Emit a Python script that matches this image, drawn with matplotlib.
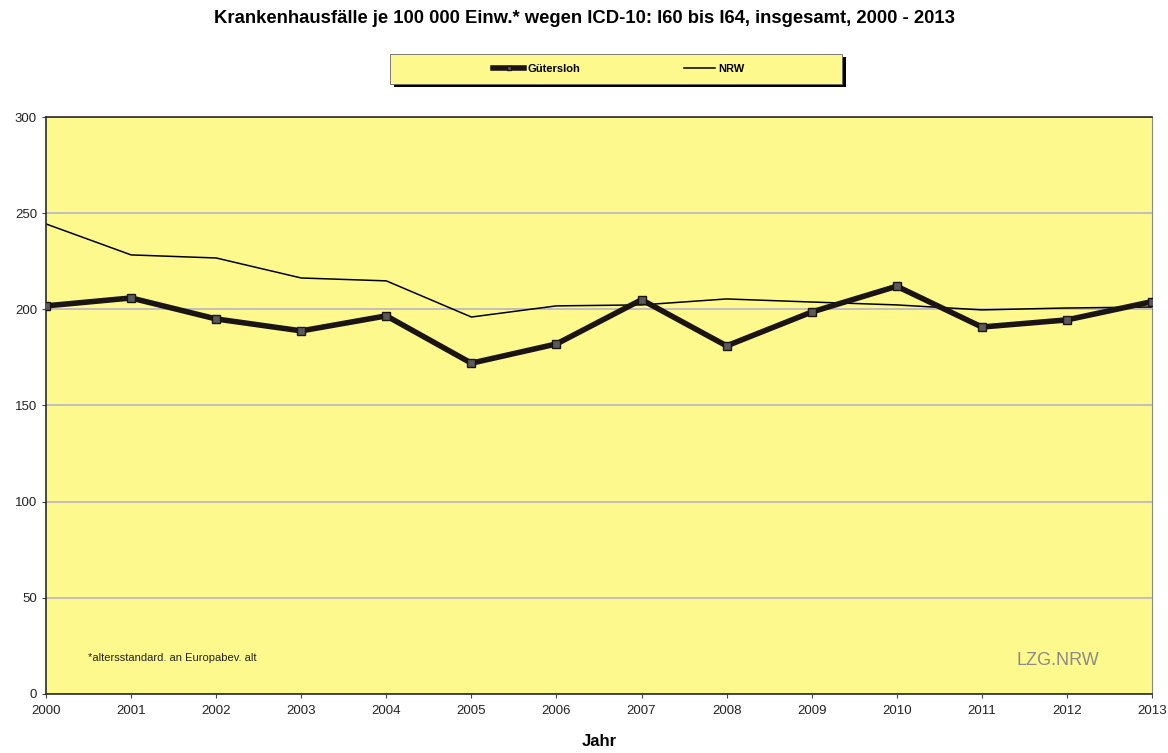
import matplotlib.pyplot as plt
from matplotlib.patches import Rectangle

plt.rcParams['font.family'] = ['Liberation Sans', 'DejaVu Sans']

# Krankenhausfälle je 100 000 Einwohner, ICD-10 I60-I64
jahre = list(range(2000, 2014))
guetersloh = [201.8, 205.9, 195.0, 188.8, 196.6, 172.0, 182.0, 205.0, 181.0, 198.6, 212.0, 190.8, 194.5, 204.0]
nrw = [244.4, 228.3, 226.7, 216.3, 214.8, 196.0, 201.8, 202.3, 205.4, 203.8, 202.3, 199.7, 200.7, 201.2]
y_ticks = [0, 50, 100, 150, 200, 250, 300]

gelb = '#FEF98C'

fig = plt.figure(figsize=(11.68, 7.53), dpi=100)
ax = fig.add_axes([0.0394, 0.0784, 0.9469, 0.7662])
ax.set_facecolor(gelb)

ax.plot(jahre, guetersloh, color='#1a1414', lw=4, marker='s', ms=6,
        mfc='#5a5a5a', mec='#1a1414', mew=1, zorder=3, label='Gütersloh')
ax.plot(jahre, nrw, color='black', lw=1.1, zorder=2, label='NRW')

ax.set_xlim(2000, 2013)
ax.set_ylim(0, 300)
ax.set_xticks(jahre)
ax.set_yticks(y_ticks)
ax.tick_params(axis='both', labelsize=9.5, length=3, color='#444444', labelcolor='#222222')
ax.tick_params(axis='x', pad=5)
ax.grid(axis='y', color='#b8b4c8', lw=1.2)
ax.set_axisbelow(True)
for s in ['left', 'bottom', 'top']:
    ax.spines[s].set_color('#2a2a2a')
    ax.spines[s].set_linewidth(1.2)
ax.spines['right'].set_color('#888888')

ax.set_xlabel('Jahr', fontsize=12, fontweight='bold', labelpad=12)

fig.text(0.5, 0.976, 'Krankenhausfälle je 100 000 Einw.* wegen ICD-10: I60 bis I64, insgesamt, 2000 - 2013',
         ha='center', va='center', fontsize=13.3, fontweight='bold')

ax.text(0.038, 0.058, '*altersstandard. an Europabev. alt', transform=ax.transAxes,
        fontsize=8, color='#222222')
ax.text(0.952, 0.05, 'LZG.NRW', transform=ax.transAxes, ha='right',
        fontsize=13, color='#8a8a8a')

# legend box with shadow
fig.patches.append(Rectangle((0.337, 0.884), 0.387, 0.040, transform=fig.transFigure,
                             facecolor='black', edgecolor='none', zorder=1))
fig.patches.append(Rectangle((0.334, 0.888), 0.387, 0.040, transform=fig.transFigure,
                             facecolor=gelb, edgecolor='#666666', lw=0.6, zorder=2))
handles, labels = ax.get_legend_handles_labels()
leg = fig.legend(handles, labels, loc='center', bbox_to_anchor=(0.530, 0.908),
                 ncol=2, frameon=False, prop={'size': 8, 'weight': 'bold'},
                 handlelength=2.8, handletextpad=0.3, columnspacing=9.3, markerscale=0.6)
leg.set_zorder(5)
fig.savefig('out.png', dpi=100)
